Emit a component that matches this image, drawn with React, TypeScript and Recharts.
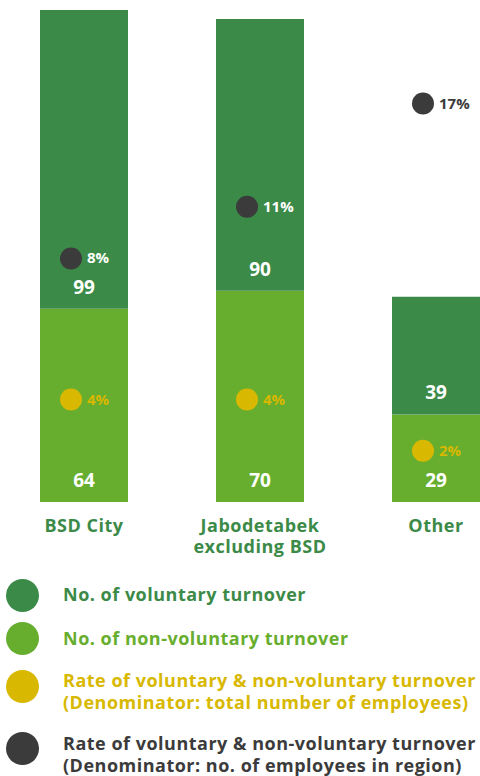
import { ComposedChart, Bar, Scatter, XAxis, YAxis, LabelList } from "recharts";

const regions = ["BSD City", "Jabodetabek\nexcluding BSD", "Other"];
const voluntary = [99, 90, 39];
const nonVoluntary = [64, 70, 29];
const rateTotal = [4, 4, 2];
const rateRegion = [8, 11, 17];

const DARK_GREEN = "#3c8a48";
const LIGHT_GREEN = "#67ae2f";
const YELLOW = "#d8b800";
const DARK = "#3b3b3b";
const FONT = "'Open Sans', Roboto, sans-serif";

const COUNT_MAX = 163;
const PLOT_TOP = 10;
const PLOT_H = 492;

const data = regions.map((name, i) => ({
  name,
  voluntary: voluntary[i],
  nonVoluntary: nonVoluntary[i],
  rateTotal: rateTotal[i],
  rateRegion: rateRegion[i],
}));

const legend = [
  { color: DARK_GREEN, lines: ["No. of voluntary turnover"], dotY: 595, textY: 583 },
  { color: LIGHT_GREEN, lines: ["No. of non-voluntary turnover"], dotY: 638, textY: 627 },
  { color: YELLOW, lines: ["Rate of voluntary & non-voluntary turnover", "(Denominator: total number of employees)"], dotY: 686, textY: 669 },
  { color: DARK, lines: ["Rate of voluntary & non-voluntary turnover", "(Denominator: no. of employees in region)"], dotY: 748, textY: 732 },
];

const CategoryTick = (props: any) => {
  const { x, y, payload } = props;
  const lines = String(payload.value).split("\n");
  return (
    <text x={x} y={y + 22} textAnchor="middle" fill={DARK_GREEN} fontSize={18} fontWeight={700} fontFamily={FONT} letterSpacing={0.5}>
      {lines.map((l, i) => (
        <tspan key={i} x={x} dy={i === 0 ? 0 : 21}>
          {l}
        </tspan>
      ))}
    </text>
  );
};

const BarValue = (props: any) => {
  const { x, y, width, height, value } = props;
  return (
    <text x={x + width / 2} y={y + height - 15} textAnchor="middle" fill="#fff" fontSize={19} fontWeight={700} fontFamily={FONT}>
      {value}
    </text>
  );
};

const makeDot = (color: string, labelColor: string, key: string) => (props: any) => {
  const { cx, cy, payload } = props;
  // label turns white when it sits on top of the stacked bar
  const barTop = PLOT_TOP + (1 - (payload.voluntary + payload.nonVoluntary) / COUNT_MAX) * PLOT_H;
  const fill = labelColor === DARK && cy > barTop ? "#fff" : labelColor;
  return (
    <g>
      <circle cx={cx - 13} cy={cy} r={11} fill={color} />
      <text x={cx + 3} y={cy + 5} fill={fill} fontSize={15} fontWeight={700} fontFamily={FONT}>
        {payload[key]}%
      </text>
    </g>
  );
};

export default function App() {
  return (
    <div style={{ position: "absolute", left: 0, top: 0, width: 480, height: 776, overflow: "hidden", background: "#fff" }}>
      <div style={{ position: "absolute", left: -4, top: 0 }}>
        <ComposedChart width={528} height={560} data={data} margin={{ top: PLOT_TOP, right: 0, left: 0, bottom: 0 }} barCategoryGap="25%">
          <XAxis dataKey="name" axisLine={false} tickLine={false} height={58} tick={<CategoryTick />} interval={0} />
          <YAxis yAxisId="count" hide domain={[0, COUNT_MAX]} />
          <YAxis yAxisId="region" hide domain={[-6.16, 22.44]} />
          <YAxis yAxisId="total" hide domain={[0, 19.2]} />
          <Bar yAxisId="count" dataKey="nonVoluntary" stackId="a" fill={LIGHT_GREEN} isAnimationActive={false}>
            <LabelList dataKey="nonVoluntary" content={<BarValue />} />
          </Bar>
          <Bar yAxisId="count" dataKey="voluntary" stackId="a" fill={DARK_GREEN} isAnimationActive={false}>
            <LabelList dataKey="voluntary" content={<BarValue />} />
          </Bar>
          <Scatter yAxisId="total" dataKey="rateTotal" fill={YELLOW} shape={makeDot(YELLOW, YELLOW, "rateTotal")} isAnimationActive={false} />
          <Scatter yAxisId="region" dataKey="rateRegion" fill={DARK} shape={makeDot(DARK, DARK, "rateRegion")} isAnimationActive={false} />
        </ComposedChart>
      </div>
      {legend.map((item, i) => (
        <div key={i}>
          <div style={{ position: "absolute", left: 6, top: item.dotY - 16.5, width: 33, height: 33, borderRadius: "50%", background: item.color }} />
          <div style={{ position: "absolute", left: 63, top: item.textY, color: item.color, fontFamily: FONT, fontWeight: 700, fontSize: 18, lineHeight: "22px", letterSpacing: 0.5, whiteSpace: "nowrap" }}>
            {item.lines.map((l, j) => (
              <div key={j}>{l}</div>
            ))}
          </div>
        </div>
      ))}
    </div>
  );
}
